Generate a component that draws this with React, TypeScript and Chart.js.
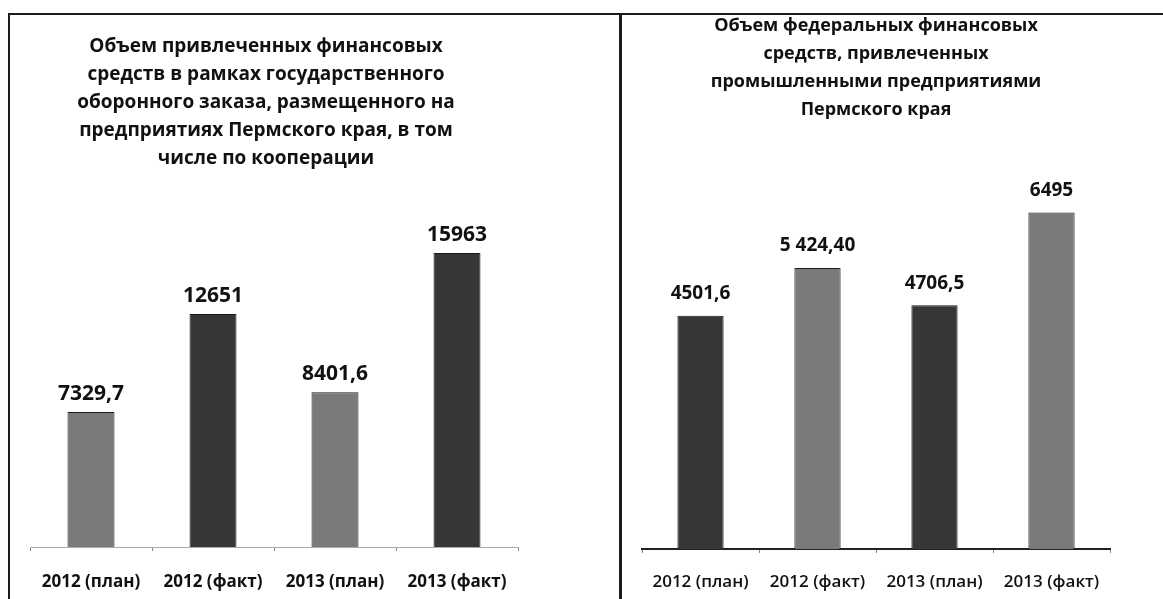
import React, { useEffect, useRef } from "react";
import { Chart, registerables } from "chart.js";

Chart.register(...registerables);

const categories = ["2012 (план)", "2012 (факт)", "2013 (план)", "2013 (факт)"];

const leftValues = [7329.7, 12651, 8401.6, 15963];
const leftValueLabels = ["7329,7", "12651", "8401,6", "15963"];
const leftTitle = [
  "Объем привлеченных финансовых",
  "средств в рамках государственного",
  "оборонного заказа, размещенного на",
  "предприятиях Пермского края, в том",
  "числе по кооперации",
];

const rightValues = [4501.6, 5424.4, 4706.5, 6495];
const rightValueLabels = ["4501,6", "5 424,40", "4706,5", "6495"];
const rightTitle = [
  "Объем федеральных финансовых",
  "средств, привлеченных",
  "промышленными предприятиями",
  "Пермского края",
];

const FONT = "'Open Sans', 'DejaVu Sans', sans-serif";
const DARK = "#363636";
const MID = "#7a7a7a";
const leftColors = [MID, DARK, MID, DARK];
const rightColors = [DARK, MID, DARK, MID];

const valueLabelPlugin = {
  id: "valueLabels",
  afterDatasetsDraw(chart: any) {
    const opts = chart.options.plugins.valueLabels;
    if (!opts) return;
    const { ctx } = chart;
    const meta = chart.getDatasetMeta(0);
    ctx.save();
    ctx.font = `bold ${opts.size}px ${FONT}`;
    ctx.fillStyle = "#111";
    ctx.textAlign = "center";
    ctx.textBaseline = "middle";
    meta.data.forEach((bar: any, i: number) => {
      ctx.fillText(opts.labels[i], bar.x, bar.y - opts.offset);
    });
    ctx.restore();
  },
};

const CANVAS_H = 630;

function BarChart(props: {
  width: number;
  values: number[];
  valueLabels: string[];
  colors: string[];
  title: string[];
  titleSize: number;
  titlePad: { top: number; bottom: number };
  yMax: number;
  yAxisWidth: number;
  padding: { left: number; right: number; top: number; bottom: number };
  barPercentage: number;
  tickWeight: string;
  tickPadding: number;
  axisDash: number[];
  axisColor: string;
  axisWidth: number;
  labelSize: number;
  labelOffset: number;
}) {
  const ref = useRef<HTMLCanvasElement | null>(null);
  useEffect(() => {
    if (!ref.current) return;
    const chart = new Chart(ref.current, {
      type: "bar",
      data: {
        labels: categories,
        datasets: [
          {
            data: props.values,
            backgroundColor: props.colors,
            borderColor: "#1a1a1a",
            borderWidth: 1,
            barPercentage: props.barPercentage,
            categoryPercentage: 1,
          },
        ],
      },
      plugins: [valueLabelPlugin],
      options: {
        responsive: false,
        animation: false,
        layout: { padding: props.padding },
        plugins: {
          legend: { display: false },
          tooltip: { enabled: false },
          title: {
            display: true,
            text: props.title,
            color: "#111",
            font: { family: FONT, size: props.titleSize, weight: "bold", lineHeight: "28px" },
            padding: props.titlePad,
          },
          valueLabels: { labels: props.valueLabels, size: props.labelSize, offset: props.labelOffset },
        } as any,
        scales: {
          x: {
            grid: {
              display: true,
              drawOnChartArea: false,
              drawTicks: true,
              tickLength: 4,
              color: "#888",
            },
            border: {
              display: true,
              color: props.axisColor,
              width: props.axisWidth,
              dash: props.axisDash,
            },
            ticks: {
              color: "#111",
              padding: props.tickPadding,
              font: { family: FONT, size: 17, weight: props.tickWeight },
            },
          },
          y: {
            display: props.yAxisWidth > 0,
            min: 0,
            max: props.yMax,
            grid: { display: false },
            border: { display: false },
            ticks: { display: false },
            afterFit: (scale: any) => {
              scale.width = props.yAxisWidth;
            },
          },
        },
      } as any,
    });
    return () => chart.destroy();
  }, []);
  return (
    <canvas
      ref={ref}
      width={props.width}
      height={CANVAS_H}
      style={{ width: props.width, height: CANVAS_H, display: "block" }}
    />
  );
}

export default function App() {
  return (
    <div
      style={{
        position: "fixed",
        left: 0,
        top: 0,
        width: 1163,
        height: 599,
        overflow: "hidden",
        background: "#fff",
      }}
    >
      <div style={{ position: "absolute", left: 0, top: 0 }}>
        <BarChart
          width={620}
          values={leftValues}
          valueLabels={leftValueLabels}
          colors={leftColors}
          title={leftTitle}
          titleSize={19}
          titlePad={{ top: 33, bottom: 42.4 }}
          yMax={18000}
          yAxisWidth={16}
          padding={{ left: 14, right: 102, top: 0, bottom: 16.6 }}
          barPercentage={0.385}
          tickWeight="bold"
          tickPadding={21}
          axisDash={[2, 2]}
          axisColor="#aaa"
          axisWidth={1}
          labelSize={21}
          labelOffset={18}
        />
      </div>
      <div style={{ position: "absolute", left: 620, top: 0 }}>
        <BarChart
          width={543}
          values={rightValues}
          valueLabels={rightValueLabels}
          colors={rightColors}
          title={rightTitle}
          titleSize={18}
          titlePad={{ top: 12, bottom: 62.4 }}
          yMax={7000}
          yAxisWidth={0}
          padding={{ left: 22, right: 53, top: 0, bottom: 18.6 }}
          barPercentage={0.395}
          tickWeight="600"
          tickPadding={19}
          axisDash={[]}
          axisColor="#222"
          axisWidth={2}
          labelSize={19}
          labelOffset={22}
        />
      </div>
      <div style={{ position: "absolute", left: 9, top: 13, width: 1154, height: 2, background: "#1c1c1c" }} />
      <div style={{ position: "absolute", left: 8, top: 13, width: 2, height: 586, background: "#1c1c1c" }} />
      <div style={{ position: "absolute", left: 619, top: 13, width: 3, height: 586, background: "#1c1c1c" }} />
    </div>
  );
}
